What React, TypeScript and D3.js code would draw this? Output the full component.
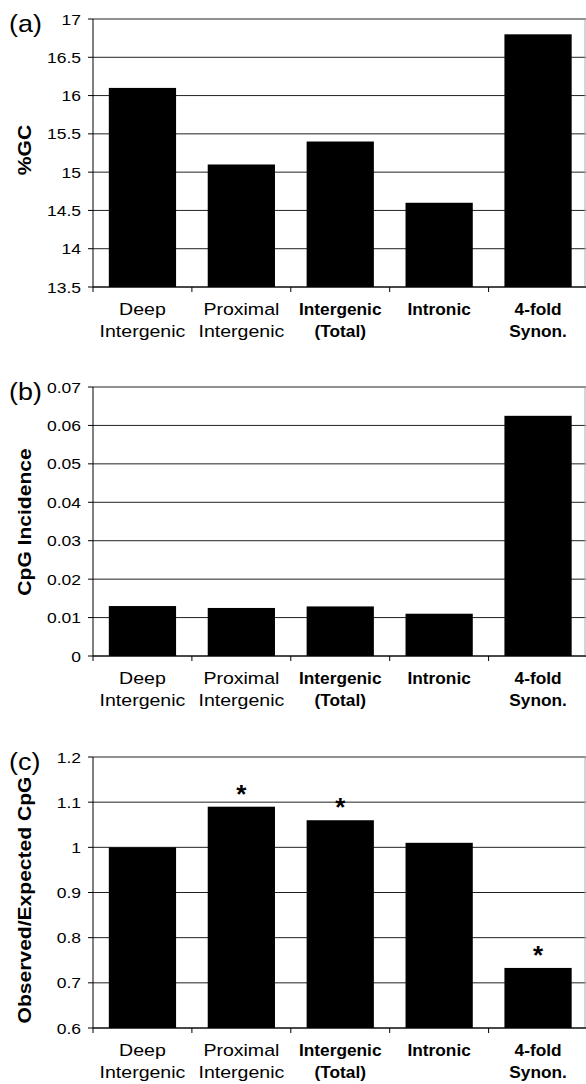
import React from "react";
import * as d3 from "d3";

const categoriesLine1 = ["Deep", "Proximal", "Intergenic", "Intronic", "4-fold"];
const categoriesLine2 = ["Intergenic", "Intergenic", "(Total)", "", "Synon."];
const categoryKeys = ["deep", "proximal", "total", "intronic", "synon"];

const gcValues = [16.1, 15.1, 15.4, 14.6, 16.8];
const gcTicks = [13.5, 14, 14.5, 15, 15.5, 16, 16.5, 17];

const cpgIncidenceValues = [0.013, 0.0125, 0.0129, 0.011, 0.0625];
const cpgIncidenceTicks = [0, 0.01, 0.02, 0.03, 0.04, 0.05, 0.06, 0.07];

const obsExpValues = [1.0, 1.09, 1.06, 1.01, 0.733];
const obsExpTicks = [0.6, 0.7, 0.8, 0.9, 1.0, 1.1, 1.2];
const obsExpSignificant = [false, true, true, false, true];

const panelLetters = ["(a)", "(b)", "(c)"];
const yTitles = ["%GC", "CpG Incidence", "Observed/Expected CpG"];

const FONT = "'Liberation Sans', Arial, Helvetica, sans-serif";
const LEFT = 93;
const RIGHT = 587.5;
const BOLD_LABEL_FROM = 2;

type PanelProps = {
  top: number;
  bottom: number;
  values: number[];
  ticks: number[];
  letter: string;
  title: string;
  letterY: number;
  titleY: number;
  stars?: boolean[];
};

function fmt(v: number) {
  return String(Number(v.toFixed(4)));
}

function Panel({ top, bottom, values, ticks, letter, title, letterY, titleY, stars }: PanelProps) {
  const x = d3
    .scaleBand<string>()
    .domain(categoryKeys)
    .range([LEFT, RIGHT])
    .paddingInner(0.32)
    .paddingOuter(0.16);
  const y = d3
    .scaleLinear()
    .domain([ticks[0], ticks[ticks.length - 1]])
    .range([bottom, top]);
  const step = x.step();
  const catTicks = d3.range(categoryKeys.length + 1).map((i) => LEFT + i * step);

  return (
    <g>
      {ticks.map((t) => (
        <line key={"g" + t} x1={LEFT} x2={RIGHT} y1={y(t)} y2={y(t)} stroke="#222" strokeWidth={1} />
      ))}
      <line x1={585} x2={585} y1={top} y2={bottom} stroke="#aaa" strokeWidth={1} />
      {values.map((v, i) => (
        <rect
          key={"b" + i}
          x={x(categoryKeys[i])}
          width={x.bandwidth()}
          y={y(v)}
          height={bottom - y(v)}
          fill="#000"
        />
      ))}
      {stars &&
        values.map((v, i) =>
          stars[i] ? (
            <text
              key={"s" + i}
              x={(x(categoryKeys[i]) as number) + x.bandwidth() / 2}
              y={y(v) - 4}
              textAnchor="middle"
              fontFamily={FONT}
              fontWeight="bold"
              fontSize={26}
            >
              *
            </text>
          ) : null
        )}
      <line x1={LEFT} x2={LEFT} y1={top} y2={bottom} stroke="#000" strokeWidth={1} />
      {ticks.map((t) => (
        <g key={"t" + t}>
          <line x1={LEFT - 5} x2={LEFT} y1={y(t)} y2={y(t)} stroke="#000" strokeWidth={1} />
          <text
            transform={`translate(${81},${y(t) + 5.5}) scale(1.13,1)`}
            textAnchor="end"
            fontFamily={FONT}
            fontSize={15.5}
            fill="#000"
          >
            {fmt(t)}
          </text>
        </g>
      ))}
      <line x1={LEFT} x2={RIGHT} y1={bottom} y2={bottom} stroke="#000" strokeWidth={1} />
      {catTicks.map((cx, i) => (
        <line key={"xt" + i} x1={cx} x2={cx} y1={bottom} y2={bottom + 5} stroke="#000" strokeWidth={1} />
      ))}
      {categoryKeys.map((k, i) => {
        const cx = (x(k) as number) + x.bandwidth() / 2;
        const bold = i >= BOLD_LABEL_FROM;
        const fs = bold ? 16 : 17;
        const sx = bold ? 1.08 : 1.15;
        return (
          <g key={"l" + k} fontFamily={FONT} fontSize={fs} fontWeight={bold ? "bold" : "normal"}>
            <text transform={`translate(${cx},${bottom + 28}) scale(${sx},1)`} textAnchor="middle">
              {categoriesLine1[i]}
            </text>
            <text transform={`translate(${cx},${bottom + 50}) scale(${sx},1)`} textAnchor="middle">
              {categoriesLine2[i]}
            </text>
          </g>
        );
      })}
      <text
        transform={`translate(31,${titleY}) rotate(-90) scale(1.17,1)`}
        textAnchor="middle"
        fontFamily={FONT}
        fontWeight="bold"
        fontSize={18}
      >
        {title}
      </text>
      <text
        transform={`translate(9,${letterY}) scale(1.12,1)`}
        fontFamily={FONT}
        fontSize={24}
      >
        {letter}
      </text>
    </g>
  );
}

export default function App() {
  return (
    <svg
      width={586}
      height={1084}
      style={{ position: "absolute", left: 0, top: 0, background: "#fff" }}
    >
      <rect x={0} y={0} width={586} height={1084} fill="#fff" />
      <Panel
        top={19}
        bottom={287}
        values={gcValues}
        ticks={gcTicks}
        letter={panelLetters[0]}
        title={yTitles[0]}
        letterY={32}
        titleY={150}
      />
      <Panel
        top={387}
        bottom={656}
        values={cpgIncidenceValues}
        ticks={cpgIncidenceTicks}
        letter={panelLetters[1]}
        title={yTitles[1]}
        letterY={400}
        titleY={522}
      />
      <Panel
        top={757}
        bottom={1028}
        values={obsExpValues}
        ticks={obsExpTicks}
        letter={panelLetters[2]}
        title={yTitles[2]}
        letterY={770}
        titleY={900}
        stars={obsExpSignificant}
      />
    </svg>
  );
}
